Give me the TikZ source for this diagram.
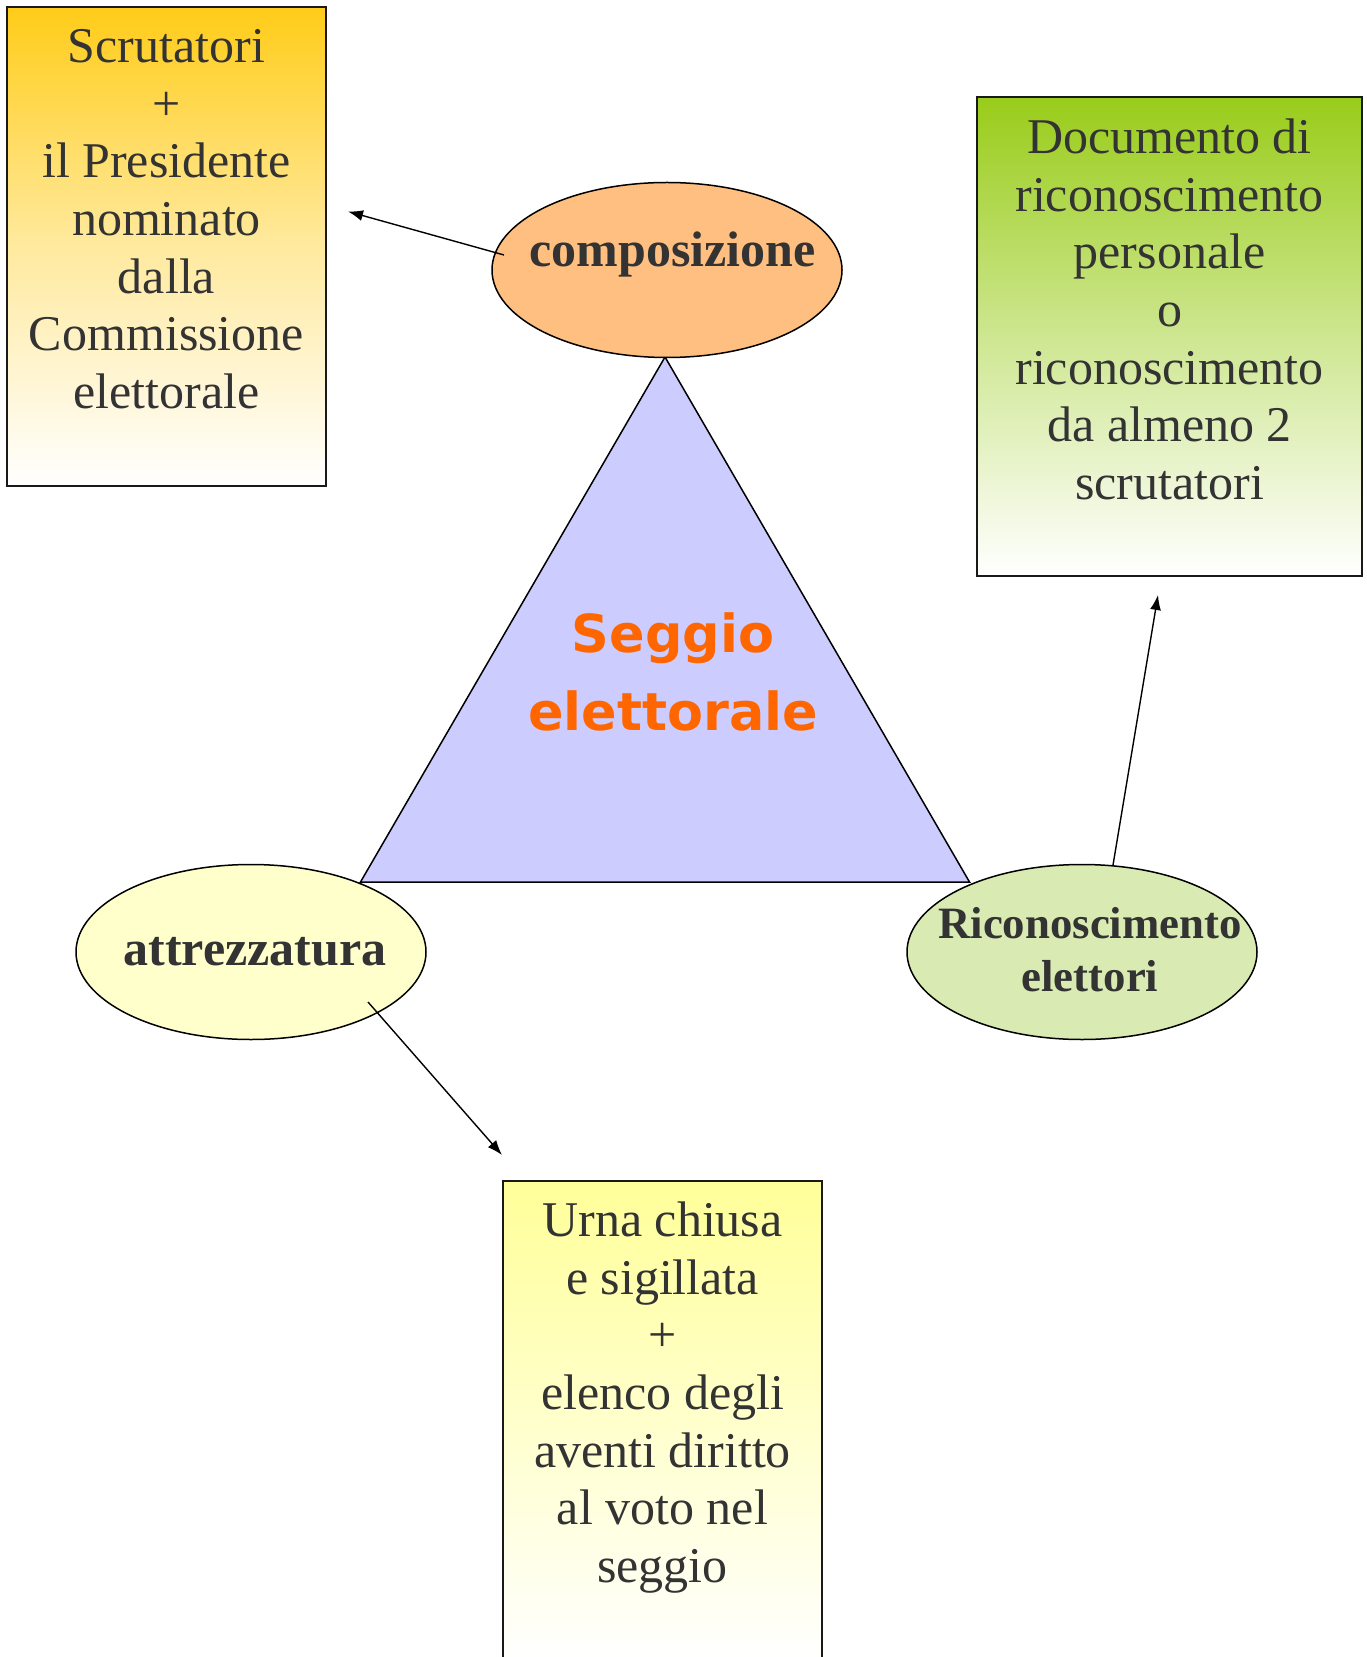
\documentclass[tikz,border=0pt]{standalone}
\usepackage{fontspec}
\setmainfont{Liberation Serif}
\newfontfamily\seggiofont{DejaVu Sans}
\usepackage{xcolor}
\usetikzlibrary{shapes,arrows.meta,positioning,calc}

\definecolor{inkgray}{RGB}{51,51,51}
\definecolor{seggiocol}{RGB}{255,102,0}
\definecolor{trifill}{RGB}{204,204,255}
\definecolor{compfill}{RGB}{255,191,128}
\definecolor{attrfill}{RGB}{255,255,204}
\definecolor{riconfill}{RGB}{217,234,179}
\definecolor{scrutop}{RGB}{255,204,25}
\definecolor{doctop}{RGB}{153,204,26}
\definecolor{urnatop}{RGB}{255,255,153}

\begin{document}
\begin{tikzpicture}[x=0.5pt, y=-0.5pt,
    oval/.style={draw, ellipse, line width=0.75pt, minimum width=175pt, minimum height=87.5pt, inner sep=0pt},
    ovaltext/.style={text=inkgray, font=\fontsize{25}{28.85}\selectfont\bfseries, inner sep=0pt},
    infobox/.style={draw=black!90, line width=1pt, rectangle, minimum width=159.5pt, minimum height=239.5pt},
    infotext/.style={text=inkgray, font=\fontsize{25}{28.85}\selectfont, align=center, inner sep=0pt, anchor=north},
    pointer/.style={-{Latex[length=7.5pt,width=5.5pt]}, line width=0.7pt}]

    \useasboundingbox[fill=white] (0,0) rectangle (1366,1657);

    % the triangle
    \coordinate (apex) at (665,357);
    \coordinate (baseleft) at (360.5,882);
    \coordinate (baseright) at (969.5,882);
    \draw[fill=trifill, line width=0.75pt] (apex) -- (baseleft) -- (baseright) -- cycle;

    \node[text=seggiocol, font=\seggiofont\bfseries\fontsize{26.2}{39}\selectfont, align=center, inner sep=0pt, anchor=north] (seggio) at (673,597.4) {\strut Seggio\\elettorale};

    % the three ovals
    \node[oval, fill=compfill] (comp) at (667,270) {};
    \node[oval, fill=attrfill] (attr) at (251,952) {};
    \node[oval, fill=riconfill] (ricon) at (1082,952) {};

    \node[ovaltext, anchor=base] (comptxt) at ($(comp)+(5.5,-3)$) {composizione};
    \node[ovaltext, anchor=base] (attrtxt) at ($(attr)+(4,13)$) {attrezzatura};
    \node[ovaltext, font=\fontsize{22.4}{26.5}\selectfont\bfseries, align=center, anchor=north] (ricontxt) at ($(ricon)+(8,-51)$) {\strut Riconoscimento\\elettori};

    % the three boxes
    \node[infobox, top color=scrutop, bottom color=white, middle color=scrutop!42] (scrut) at (166.5,246.5) {};
    \node[infotext] (scruttxt) at ([yshift=-7.8pt]scrut.north) {\strut Scrutatori\\+\\il Presidente\\nominato\\dalla\\Commissione\\elettorale};

    \node[infobox, minimum width=192.5pt, top color=doctop, bottom color=white, middle color=doctop!48] (doc) at (1169.5,336.5) {};
    \node[infotext] (doctxt) at ([yshift=-8.3pt]doc.north) {\strut Documento di\\riconoscimento\\personale\\o\\riconoscimento\\da almeno 2\\scrutatori};

    \node[infobox, top color=urnatop, bottom color=white] (urna) at (662.5,1420.5) {};
    \node[infotext] (urnatxt) at ([yshift=-7.8pt]urna.north) {\strut Urna chiusa\\e sigillata\\+\\elenco degli\\aventi diritto\\al voto nel\\seggio};

    % arrows
    \coordinate (scrutin) at ($(scrut.east)+(21,-35)$);
    \coordinate (docin) at ($(doc.south)+(-11.5,18)$);
    \coordinate (urnain) at ($(urna.north west)+(0,-25)$);

    \draw[pointer] ($(comp)+(-163,-15)$) -- (scrutin);
    \draw[pointer] ($(attr)+(117,50)$) -- (urnain);
    \draw[pointer] ($(ricon)+(31,-87)$) -- (docin);

\end{tikzpicture}
\end{document}
